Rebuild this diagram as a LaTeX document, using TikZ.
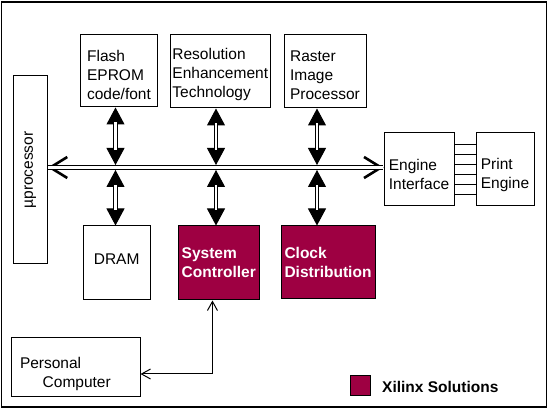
\documentclass[tikz,border=0pt]{standalone}
\usepackage{fontspec}
\setmainfont{Liberation Sans}
\usepackage{graphicx}
\usetikzlibrary{arrows.meta}
\definecolor{xil}{RGB}{158,0,66}
\newcommand{\dn}[1]{\rule{0pt}{#1}}
\begin{document}
\begin{tikzpicture}[x=1pt,y=1pt,
  box/.style={draw, line width=1pt, inner sep=0pt, align=left,
    font=\fontsize{15.5}{19}\selectfont},
  xbox/.style={box, fill=xil, text=white, font=\fontsize{15.5}{19}\selectfont\bfseries},
  dblshaft/.style={draw, double, double distance=2.2pt, line width=1pt, shorten <=#1, shorten >=#1},
  dbl/.style={line width=1pt,
    {Triangle[length=17pt,width=18pt]}-{Triangle[length=17pt,width=18pt]},
    postaction={dblshaft=15pt, -}},
  bus/.style={line width=1pt,
    {Straight Barb[length=17pt,width=21pt,line width=2.6pt]}-{Straight Barb[length=17pt,width=21pt,line width=2.6pt]},
    postaction={dblshaft=0.5pt, -}},
  thinarr/.style={line width=1pt,
    {Straight Barb[length=9pt,width=10pt,line width=1pt]}-{Straight Barb[length=9pt,width=10pt,line width=1pt]}}
]
\useasboundingbox (0,0) rectangle (548,409);
\draw[line width=1.6pt] (1.5,2) rectangle (546.5,407);

% top row
\node[box, minimum width=77pt, minimum height=72pt] (flash) at (119,338) {\dn{18.3pt}Flash\\EPROM\\code/font};
\node[box, minimum width=100.5pt, minimum height=73pt] (ret) at (220.25,337.5) {\dn{17.5pt}Resolution\\Enhancement\\Technology};
\node[box, minimum width=82pt, minimum height=73pt] (rip) at (325,337.5) {\dn{17.5pt}Raster\\Image\\Processor};

% processor
\node[box, minimum width=34pt, minimum height=188pt] (up) at (30.3,239) {\rotatebox{90}{µprocessor}};

% engine
\node[box, minimum width=70pt, minimum height=73pt] (ei) at (419,239.5) {\dn{21.5pt}Engine\\Interface};
\node[box, minimum width=58pt, minimum height=73pt] (pe) at (505,239.5) {\dn{21.5pt}Print\\Engine};

% bottom row
\node[box, minimum width=66.7pt, minimum height=74pt] (dram) at (116.65,146) {DRAM\rule[-8pt]{0pt}{8pt}};
\node[xbox, minimum width=80.5pt, minimum height=74pt] (sc) at (218.75,146) {System\\Controller};
\node[xbox, minimum width=94pt, minimum height=73pt] (cd) at (328,146.5) {Clock\\Distribution};

% personal computer
\node[box, text width=111.5pt, inner xsep=8.5pt, minimum height=59pt] (pc) at (75.75,41.5) {\dn{24pt}Personal\\\hspace*{22.7pt}Computer};

% legend
\node[draw, line width=1pt, fill=xil, minimum size=20pt, inner sep=0pt] (leg) at (360,23) {};
\node[anchor=west, inner sep=0pt, font=\fontsize{15.5}{19}\selectfont\bfseries] (legt) at (382,22) {Xilinx Solutions};

% bus
\coordinate (c1) at (115.5,241.5);
\coordinate (c2) at (216,241.5);
\coordinate (c3) at (317,241.5);
\draw[bus] (up.east |- c1) -- (ei.west |- c1);

% vertical connectors
\draw[dbl] (flash.south -| c1) -- ([yshift=2.5pt]c1);
\draw[dbl] (ret.south -| c2) -- ([yshift=2.5pt]c2);
\draw[dbl] (rip.south -| c3) -- ([yshift=2.5pt]c3);
\draw[dbl] ([yshift=-2.5pt]c1) -- (dram.north -| c1);
\draw[dbl] ([yshift=-2.5pt]c2) -- (sc.north -| c2);
\draw[dbl] ([yshift=-2.5pt]c3) -- (cd.north -| c3);

% engine interface to print engine
\foreach \o in {24.5,14.5,4.5,-5.5,-15.5,-25.5}
  \draw[line width=1pt] ([yshift=\o pt]ei.east) -- ([yshift=\o pt]ei.east -| pe.west);

% pc to system controller
\draw[thinarr] ([yshift=-6.5pt]pc.east) -| ([xshift=-6.3pt]sc.south);
\end{tikzpicture}
\end{document}
